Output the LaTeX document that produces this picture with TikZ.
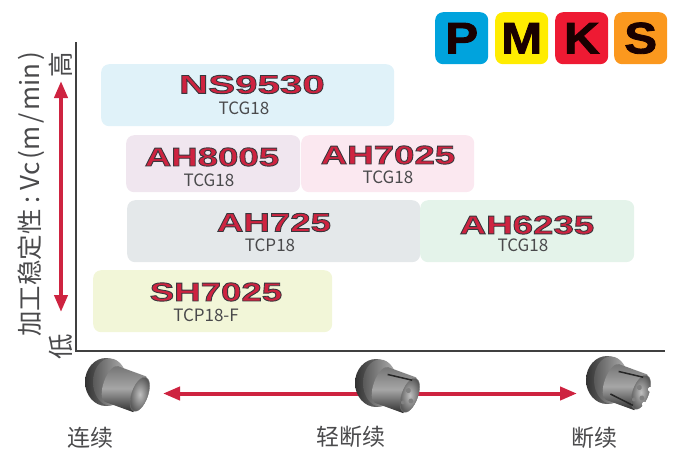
\documentclass[tikz,border=0pt]{standalone}
\usepackage{fontspec}
\setmainfont{Liberation Sans}
\newfontfamily\cjkf{Noto Sans CJK SC}
\newfontfamily\gradef[FakeStretch=1.55]{Liberation Sans Bold}
\newfontfamily\gradeg[FakeStretch=1.41]{Liberation Sans Bold}
\newfontfamily\isof[FakeStretch=1.12,FakeBold=2]{Liberation Sans Bold}
\usetikzlibrary{arrows.meta,calc}
\definecolor{crim}{HTML}{CE2340}
\definecolor{txt}{HTML}{4A4A4C}
\newcommand{\outl}[1]{\special{pdf:code q 2 Tr 0.9 w 0.22 0.22 0.24 RG}#1\special{pdf:code Q}}
\tikzset{
 band/.style={anchor=north west,rounded corners=8pt,inner sep=0pt,minimum height=#1},
 grade/.style={text=crim,font=\gradef\fontsize{26}{26}\selectfont,inner sep=0pt},
 gradeb/.style={text=crim,font=\gradeg\fontsize{26}{26}\selectfont,inner sep=0pt},
 code/.style={text=txt,font=\cjkf\fontsize{17}{17}\selectfont,inner sep=0pt},
 iso/.style={anchor=north west,rounded corners=8pt,minimum width=53pt,minimum height=52pt,inner sep=0pt,text=black!90!red,font=\isof\fontsize{44}{44}\selectfont},
 caplabel/.style={text=txt,font=\cjkf\fontsize{23}{23}\selectfont,inner sep=0pt},
 axislabel/.style={text=txt,font=\cjkf\fontsize{25.5}{25.5}\selectfont,inner sep=0pt,rotate=90},
 axisline/.style={draw=black!75,line width=1.5pt},
 redarrow/.style={draw=crim,line width=4pt,{Triangle[length=17pt,width=13pt]}-{Triangle[length=17pt,width=13pt]}},
 pics/bush/.style={code={
   % flange disc
   \shade[left color=black!80,right color=black!40] (0,0) ellipse (21 and 24);
   \shade[left color=black!65,right color=black!30] (4,0) ellipse (17 and 23.5);
   % body
   \begin{scope}[rotate=-20]
    \shade[top color=black!55,bottom color=black!82,middle color=black!35]
      (6,-19) -- (36,-19) -- (36,19) -- (6,19) arc (90:270:8 and 19) -- cycle;
    \shade[inner color=black!25,outer color=black!65,draw=black!55] (36,0) ellipse (8 and 18);
    \ifnum#1>0
      \draw[black!85,line width=1.5pt] (8,-12) -- (33,-15);
      \fill[black!50] (33,-4) circle (2.5) (39,5) circle (2.5) (32,9) circle (2);
    \fi
    \ifnum#1>1
      \draw[black!85,line width=1.5pt] (8,12) -- (33,15);
      \fill[white] (44.5,-6) ellipse (3 and 2.5);
      \fill[white] (43.5,10) ellipse (2.5 and 2.5);
    \fi
   \end{scope}
  }},
}
\begin{document}
\begin{tikzpicture}[x=1pt,y=-1pt]
\useasboundingbox (0,0) rectangle (677,451);
% bands
\node[band=62pt,minimum width=293pt,fill={rgb,255:red,224;green,242;blue,249}] (bA) at (101,64) {};
\node[band=57pt,minimum width=174pt,fill={rgb,255:red,240;green,230;blue,239}] (bB) at (126,135) {};
\node[band=57pt,minimum width=173pt,fill={rgb,255:red,251;green,232;blue,240}] (bC) at (301,135) {};
\node[band=62pt,minimum width=293pt,fill={rgb,255:red,228;green,232;blue,234}] (bD) at (127,200) {};
\node[band=62pt,minimum width=214pt,fill={rgb,255:red,228;green,243;blue,234}] (bE) at (420,200) {};
\node[band=62pt,minimum width=239pt,fill={rgb,255:red,242;green,246;blue,216}] (bF) at (93,270) {};
% grades
\node[grade] (g1) at (252,84.5) {\outl{NS9530}};
\node[code] (c1) at (244,108) {TCG18};
\node[gradeb] (g2) at (212,157) {\outl{AH8005}};
\node[code] (c2) at (209,180) {TCG18};
\node[gradeb] (g3) at (388,155) {\outl{AH7025}};
\node[code] (c3) at (388,177) {TCG18};
\node[gradeb] (g4) at (274,222.5) {\outl{AH725}};
\node[code] (c4) at (270,245) {TCP18};
\node[gradeb] (g5) at (527,225) {\outl{AH6235}};
\node[code] (c5) at (523,245.5) {TCG18};
\node[gradeb] (g6) at (216,292) {\outl{SH7025}};
\node[code] (c6) at (206,315.5) {TCP18-F};
% ISO
\node[iso,fill={rgb,255:red,0;green,163;blue,221}] (P) at (435,12) {P};
\node[iso,fill={rgb,255:red,255;green,236;blue,0}] (M) at (495,12) {M};
\node[iso,fill={rgb,255:red,238;green,26;blue,51}] (K) at (555,12) {K};
\node[iso,fill={rgb,255:red,251;green,152;blue,30}] (S) at (614,12) {S};
% axes
\coordinate (top) at (76,42);
\coordinate (org) at (76,351);
\coordinate (rgt) at (665,351);
\draw[axisline] (top) -- (org) -- (rgt);
% axis labels
\node[axislabel] (yl) at (31,194) {加工稳定性\hspace{6pt}:\hspace{6pt}{\fontsize{26}{26}\selectfont Vc\hspace{3pt}(m\hspace{3pt}/\hspace{3pt}min\hspace{3pt})}};
\node[axislabel] (hi) at (61,65) {高};
\node[axislabel] (lo) at (61,347) {低};
% arrows
\coordinate (vt) at (61,81);
\coordinate (vb) at (61,312);
\draw[redarrow] (vt) -- (vb);
\coordinate (hl) at (163,393.5);
\coordinate (hr) at (577,393.5);
\draw[redarrow] (hl) -- (hr);
% tools
\pic at (106,382) {bush=0};
\pic at (376,383) {bush=1};
\pic at (607,380) {bush=2};
% captions
\node[caplabel] (t1) at (90,438) {连续};
\node[caplabel] (t2) at (351,437) {轻断续};
\node[caplabel] (t3) at (594,438) {断续};
\end{tikzpicture}
\end{document}
